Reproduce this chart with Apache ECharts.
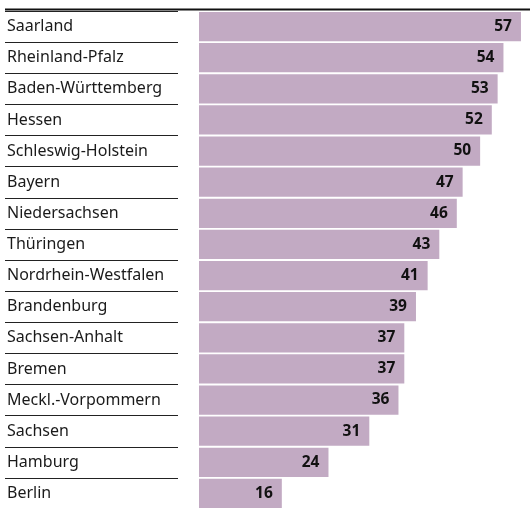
<!DOCTYPE html>
<html>
<head>
<meta charset="utf-8">
<script src="https://cdn.jsdelivr.net/npm/echarts@6/dist/echarts.min.js"></script>
<style>
  html, body { margin: 0; padding: 0; background: #fff; }
  #chart { width: 530px; height: 509px; }
</style>
</head>
<body>
<div id="chart"></div>
<script>
const states = ['Saarland', 'Rheinland-Pfalz', 'Baden-Württemberg', 'Hessen', 'Schleswig-Holstein',
  'Bayern', 'Niedersachsen', 'Thüringen', 'Nordrhein-Westfalen', 'Brandenburg',
  'Sachsen-Anhalt', 'Bremen', 'Meckl.-Vorpommern', 'Sachsen', 'Hamburg', 'Berlin']
const values = [57, 54, 53, 52, 50, 47, 46, 43, 41, 39, 37, 37, 36, 31, 24, 16]

const chart = echarts.init(document.getElementById('chart'))
const option = {
  animation: false,
  grid: [
    // Zeilen mit Ländernamen
    { left: 5, width: 173, top: 11, height: 502 },
    // Balken
    { left: 199, right: 0, top: 11, height: 502 }
  ],
  graphic: [{
    type: 'line',
    shape: { x1: 5, y1: 9.5, x2: 530, y2: 9.5 },
    style: { stroke: '#111', lineWidth: 2 }
  }],
  xAxis: [
    { gridIndex: 0, type: 'value', show: false },
    { gridIndex: 1, type: 'value', min: 1.8, max: 58.55, show: false }
  ],
  yAxis: [
    {
      gridIndex: 0, type: 'category', data: states, inverse: true,
      axisLine: { show: false }, axisTick: { show: false },
      splitLine: { show: true, lineStyle: { color: '#222', width: 1 } },
      axisLabel: {
        inside: true, margin: 2, color: '#1a1a1a',
        fontFamily: 'Noto Sans', fontSize: 16
      }
    },
    {
      gridIndex: 1, type: 'category', data: states, inverse: true,
      show: false
    }
  ],
  series: [{
    type: 'bar',
    xAxisIndex: 1, yAxisIndex: 1,
    data: values,
    barCategoryGap: '6%',
    itemStyle: { color: '#c2aac3' },
    label: {
      show: true, position: 'insideRight', distance: 9,
      color: '#111', fontFamily: 'Noto Sans', fontWeight: 'bold', fontSize: 15.5
    }
  }]
}
chart.setOption(option)
</script>
</body>
</html>
